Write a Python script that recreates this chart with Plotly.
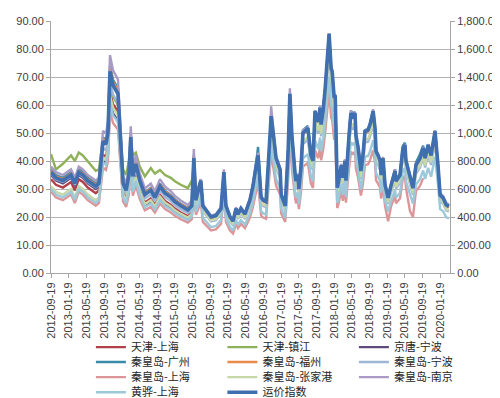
import plotly.graph_objects as go

# ---------------- data ----------------
dates = [
    '2012-09-19','2012-10-23','2012-12-10','2013-02-04','2013-03-02','2013-03-29','2013-04-26','2013-05-30','2013-07-24','2013-08-15',
    '2013-09-12','2013-10-02','2013-10-16','2013-10-30','2013-11-20','2013-12-24','2014-01-28','2014-02-18','2014-03-09','2014-03-22',
    '2014-04-05','2014-04-26','2014-05-23','2014-06-27','2014-08-07','2014-09-04','2014-10-09','2014-11-13','2014-12-23','2015-01-20',
    '2015-03-01','2015-04-19','2015-05-16','2015-05-30','2015-06-13',
    '2015-07-17','2015-07-31','2015-09-25','2015-10-29','2015-12-03','2015-12-23','2016-01-06','2016-02-03','2016-02-24','2016-03-15',
    '2016-03-29','2016-04-18','2016-05-16','2016-06-19','2016-07-10','2016-07-31','2016-08-14','2016-09-04','2016-09-18','2016-10-08',
    '2016-11-05','2016-11-12','2016-11-26','2016-12-16','2017-01-13','2017-01-20','2017-02-17','2017-03-09','2017-03-21','2017-04-04',
    '2017-04-25','2017-05-02','2017-05-15','2017-05-22','2017-06-05','2017-06-19','2017-07-23','2017-08-13','2017-08-27','2017-09-10',
    '2017-10-01','2017-10-15','2017-10-22','2017-11-05','2017-11-19','2017-12-02','2017-12-16','2017-12-30','2018-01-06','2018-01-20',
    '2018-01-27','2018-02-10',
    '2018-02-17','2018-03-10','2018-03-21','2018-04-04','2018-04-11','2018-05-02','2018-05-15','2018-05-29','2018-06-12','2018-06-19',
    '2018-07-03','2018-07-23','2018-08-06','2018-08-20','2018-09-10','2018-09-24','2018-10-15','2018-10-28','2018-11-04','2018-11-18',
    '2018-12-02','2018-12-09','2018-12-22','2019-01-05','2019-01-26','2019-02-16','2019-03-01','2019-03-15','2019-03-21','2019-04-18',
    '2019-05-08','2019-05-22','2019-05-29','2019-06-26','2019-07-16','2019-08-06','2019-09-03','2019-09-24','2019-10-08','2019-10-28',
    '2019-11-18','2019-12-15','2019-12-22','2020-01-05','2020-01-19','2020-02-09','2020-03-01','2020-03-20',
]

tianjin_shanghai = [
    33.5,31.5,30.5,32.5,29.5,33.5,32.5,30.5,28.5,29.5,
    42.3,41.4,45,64.8,60.3,57.6,28.8,26.6,31.5,43.7,31.1,35.1,29.7,25.2,26.6,24.3,27.9,25.7,24.3,23,21.6,20.3,21.6,36.9,23.4,
]
tianjin_zhenjiang = [
    42.5,37,39,42,40,43,42,40,36.5,37,
    48,47,50,66,63,60,37,35,40,46,42,43,38,34.5,37.5,35.5,36.8,35,34,32.8,31.5,30.3,33,
]
jingtang_ningbo = [
    35,33,32,34,31,35,34,32,30,31,
    40,39.1,42.5,61.2,57,54.4,27.2,25.1,29.8,41.2,29.3,33.2,28.1,23.8,25.1,23,26.4,24.2,23,21.7,20.4,19.1,20.4,34.9,22.1,
]
qhd_guangzhou = [
    37,35,34,36,33,37,36,34,32,33,
    48.4,47.4,51.5,74.2,69,65.9,33,30.4,36.1,50,35.5,40.2,34,28.8,30.4,27.8,31.9,29.4,27.8,26.3,24.7,23.2,24.7,42.2,26.8,
    33.5,24,20,20.5,23,36,24,20,18.5,23,21,23,21,26,31.5,39,45,27,26,25.5,
    47,56.5,50,41,37,28,24,44,64,49,36,33,35,30,38,51,52.5,42,40,58,
    54.5,59.5,53,58,66,75,85,73,72,62.5,63.5,30.5,
    32,38.5,34,40.5,33,50,58,57,57.5,49,45,37,42.5,51,51.5,53.5,58,51.7,43.5,42,
    40,35,41,31.4,27,31.5,34.5,37,33,35.5,45.5,46.5,40.5,34,30.5,39.5,42.5,45.5,41.5,46,
    42,51,47,38,28,27,24.5,24,
]
qhd_fuzhou = [
    36.5,34.5,33.5,35.5,32.5,36.5,35.5,33.5,31.5,32.5,
    47.9,46.9,51,73.4,68.3,65.3,32.6,30.1,35.7,49.5,35.2,39.8,33.7,28.6,30.1,27.5,31.6,29.1,27.5,26,24.5,23,24.5,41.8,26.5,
    32.5,23.5,19.5,20,22.5,35.5,23.5,19.5,18,22.5,20.5,22.5,20.5,25.5,30.5,37.5,41.5,26.5,25.5,25,
    46.5,55.5,49.5,40.5,36.3,27.5,23.5,43,63.5,48.5,35.5,32.3,34.5,29.5,37,49.5,51.2,41.5,39.5,57.3,
    53.5,58.5,52.5,57.5,65.5,74.5,85,72.5,71.5,62,63,30,
    31.5,38,33.5,39.5,32.5,48.5,56.5,55.5,56.5,48.5,44.5,35.9,41.5,50.1,50.5,52.5,57.3,51.2,43,41.5,
    39.5,34.5,40.5,30.9,26.3,30.9,33.5,35.9,32.3,34.5,44.1,45.2,39.5,33.5,29.8,38,40.5,44.1,40.5,45.2,
    41.5,50.1,46.5,37.5,27.3,26.3,23.8,23.3,
]
qhd_ningbo = [
    35.5,33.5,32.5,34.5,31.5,35.5,34.5,32.5,30.5,31.5,
    44.7,43.7,47.5,68.4,63.7,60.8,30.4,28,33.3,46.1,32.8,37.1,31.4,26.6,28,25.7,29.5,27.1,25.7,24.2,22.8,21.4,22.8,39,24.7,
    30.4,22.1,18.4,18.9,21.2,33.1,22.1,18.4,17,21.2,19.3,21.2,19.3,23.9,28.5,35,38.6,24.8,23.9,23.5,
    43.2,51.5,46,37.7,33.9,25.8,22.1,40,58.9,45.1,33.1,30.2,32.2,27.6,34.5,46,47.6,38.6,36.8,53.2,
    49.7,54.3,48.8,53.4,60.7,69,78.7,67.2,66.2,57.5,58.4,28.1,
    29.4,35.4,31.3,36.8,30.4,45.1,52.4,51.5,52.4,45.1,41.4,33.5,38.6,46.6,46.9,48.8,53.2,47.6,40,38.6,
    36.8,32.2,37.7,28.9,24.7,28.9,31.3,33.5,30.2,32.2,41,42,36.8,31.3,27.9,35.4,37.7,41,37.7,42,
    38.6,46.6,43.2,35,25.6,24.7,22.4,21.9,
]
qhd_shanghai = [
    29,27,26,28,25,29,28,26,24,25,
    37.6,36.8,40,57.6,53.6,51.2,25.6,23.6,28,38.8,27.6,31.2,26.4,22.4,23.6,21.6,24.8,22.8,21.6,20.4,19.2,18,19.2,32.8,20.8,
    25.1,18.2,15.2,15.6,17.5,27.4,18.2,15.2,14.1,17.5,16,17.5,16,19.8,23.6,28.9,31.9,20.5,19.8,19.4,
    35.7,42.6,38,31.2,28,21.3,18.2,33.1,48.6,37.2,27.4,24.9,26.6,22.8,28.5,38,39.3,31.9,30.4,43.9,
    41,44.8,40.3,44.1,50.2,57,65,55.5,54.7,47.5,48.3,23.2,
    24.3,29.3,25.8,30.4,25.1,37.2,43.3,42.6,43.3,37.2,34.2,27.7,31.9,38.5,38.8,40.3,43.9,39.3,33.1,31.9,
    30.4,26.6,31.2,23.9,18.5,23.9,25.8,27.7,24.9,26.6,33.9,34.7,30.4,22,20,29.3,31.2,33.9,
]
qhd_zhangjiagang = [
    31,29,28,30,27,31,30,28,26,27,
    41.4,40.5,44,63.4,59,56.3,28.2,26,30.8,42.7,30.4,34.3,29,24.6,26,23.8,27.3,25.1,23.8,22.4,21.1,19.8,21.1,36.1,22.9,
    31,22.6,18.8,19.3,21.6,33.8,22.6,18.8,17.4,21.6,19.7,21.6,19.7,24.4,29.1,35.7,39.5,25.4,24.4,24,
    44.2,52.6,47,38.5,34.6,26.3,22.6,40.9,60.2,46.1,33.8,30.8,32.9,28.2,35.3,47,48.6,39.5,37.6,54.3,
    50.8,55.5,49.8,54.5,62,70.5,80.4,68.6,67.7,58.8,59.7,28.7,
    30.1,36.2,32,37.6,31,46.1,53.6,52.6,53.6,46.1,42.3,34.2,39.5,47.6,47.9,49.8,54.3,48.6,40.9,39.5,
    37.6,32.9,38.5,29.5,25.2,29.5,32,34.2,30.8,32.9,41.9,43,37.6,32,28.5,36.2,38.5,41.9,38.5,43,
    39.5,47.6,44.2,35.7,26.1,25.2,22.8,22.4,
]
qhd_nanjing = [
    38,36,35,37,34,38,37,35,33,34,
    50.8,49.7,54,77.8,72.4,69.1,34.6,31.9,37.8,52.4,37.3,42.1,35.6,30.2,31.9,29.2,33.5,30.8,29.2,27.5,25.9,24.3,25.9,44.3,28.1,
    33.5,24.5,20.5,21,23.5,37,24.5,20.5,19,23.5,21.5,23.5,21.5,26.5,31.5,39,43,27.5,26.5,26,
    49,59.5,51,41.5,37.5,28.5,24.5,44,66,50,36.5,33.5,35.5,30.5,38,51,52,42.5,40.5,58,
    54.5,59.5,53.5,58.5,66.5,75.5,85.5,73.5,72.5,63,64,31,
    32.5,39,34.5,40.5,33.5,49.5,58,56.5,57.5,49.5,45.5,37,42.5,51,51.5,53.5,58.5,52,44,42.5,
    40.5,35.5,41.5,32,27.5,32,34.5,37,33.5,35.5,45,46,40.5,34.5,31,39,41.5,45,41.5,46,
    42.5,51,47.5,38.5,28.5,27.5,25,24.5,
]
huanghua_shanghai = [
    30,28,27,29,26,30,29,27,25,26,
    39.5,38.6,42,60.5,56.3,53.8,26.9,24.8,29.4,40.7,29,32.8,27.7,23.5,24.8,22.7,26,23.9,22.7,21.4,20.2,18.9,20.2,34.4,21.8,
    27.1,19.7,16.4,16.8,18.9,29.5,19.7,16.4,15.2,18.9,17.2,18.9,17.2,21.3,25.4,31.2,34.4,22.1,21.3,20.9,
    38.5,45.9,41,33.6,30.2,23,19.7,35.7,52.5,40.2,29.5,26.9,28.7,24.6,30.8,41,42.4,34.4,32.8,47.4,
    44.3,48.4,43.5,47.6,54.1,61.5,70.1,59.9,59,51.3,52.1,25,
    26.2,31.6,27.9,32.8,27.1,40.2,46.7,45.9,46.7,40.2,36.9,29.8,34.4,41.5,41.8,43.5,47.4,42.4,35.7,34.4,
    32.8,28.7,33.6,25.7,22,25.7,27.9,29.8,26.9,28.7,36.6,37.5,32.8,27.9,24.8,31.6,33.6,36.6,33.6,37.5,
    34.4,41.5,38.5,31.2,22.8,22,19.9,19.5,
]
freight_index = [
    720,680,660,700,640,720,700,660,620,640,
    940,920,1000,1440,1340,1280,640,590,700,970,690,780,660,560,590,540,620,570,540,510,480,450,480,820,520,
    660,480,400,410,460,720,480,400,370,460,420,460,420,520,620,760,840,540,520,510,
    940,1120,1000,820,736,560,480,870,1280,980,720,656,700,600,750,1000,1034,840,800,1156,
    1080,1180,1060,1160,1320,1500,1710,1460,1440,1250,1270,610,
    640,770,680,800,660,980,1140,1120,1140,980,900,728,840,1012,1020,1060,1156,1034,870,840,
    800,700,820,628,536,628,680,728,656,700,892,914,800,680,606,770,820,892,820,914,
    840,1012,940,760,556,536,486,476,
]

tick_dates = ['2012-09-19','2013-01-19','2013-05-19','2013-09-19','2014-01-19','2014-05-19','2014-09-19',
              '2015-01-19','2015-05-19','2015-09-19','2016-01-19','2016-05-19','2016-09-19','2017-01-19',
              '2017-05-19','2017-09-19','2018-01-19','2018-05-19','2018-09-19','2019-01-19','2019-05-19',
              '2019-09-19','2020-01-19']

names = ['天津-上海', '天津-镇江', '京唐-宁波', '秦皇岛-广州', '秦皇岛-福州', '秦皇岛-宁波',
         '秦皇岛-上海', '秦皇岛-张家港', '秦皇岛-南京', '黄骅-上海', '运价指数']
series = [tianjin_shanghai, tianjin_zhenjiang, jingtang_ningbo, qhd_guangzhou, qhd_fuzhou, qhd_ningbo,
          qhd_shanghai, qhd_zhangjiagang, qhd_nanjing, huanghua_shanghai, freight_index]

# ---------------- styles ----------------
colors = ['#B0404A', '#8FB15A', '#5E4B7C', '#3A8BA8', '#E98B4B', '#9FB6D6',
          '#DC9699', '#C6D8A8', '#A99BC6', '#9CC8DA', '#3F6FAF']
legend_ids = ['legend', 'legend', 'legend', 'legend2', 'legend2', 'legend2',
              'legend3', 'legend3', 'legend3', 'legend4', 'legend4']

fig = go.Figure()
for i, (n, s) in enumerate(zip(names, series)):
    is_index = (n == '运价指数')
    fig.add_trace(go.Scatter(
        x=dates[:len(s)], y=s, name=n, mode='lines',
        line=dict(color=colors[i], width=3.6 if is_index else 2.4),
        yaxis='y2' if is_index else 'y',
        legend=legend_ids[i],
    ))

tick_font = dict(family='Liberation Sans, Arial, sans-serif', size=11, color='#404040')
axis_gray = '#A6A6A6'

leg_common = dict(orientation='h', x=0.1, xanchor='left', yanchor='middle',
                  entrywidth=86.5, entrywidthmode='pixels',
                  font=dict(family='Noto Sans CJK SC, sans-serif', size=11, color='#262626'),
                  bgcolor='rgba(0,0,0,0)', borderwidth=0, itemwidth=30)

fig.update_layout(
    width=500, height=398,
    margin=dict(l=43, r=58, t=13, b=133, autoexpand=False),
    paper_bgcolor='white', plot_bgcolor='white',
    showlegend=True,
    xaxis=dict(type='date', range=['2012-09-19', '2020-03-27'],
               tickmode='array', tickvals=tick_dates, ticktext=tick_dates,
               tickangle=-90, tickfont=tick_font,
               showgrid=False, showline=True, linecolor=axis_gray, linewidth=1,
               ticks='outside', ticklen=4, tickcolor=axis_gray, zeroline=False),
    yaxis=dict(range=[0, 90], dtick=10, tick0=0, tickformat='.2f', tickfont=tick_font,
               showgrid=True, gridcolor='#B3B3B3', gridwidth=1,
               showline=True, linecolor=axis_gray, ticks='outside', ticklen=4, tickcolor=axis_gray,
               zeroline=False),
    yaxis2=dict(range=[0, 1800], dtick=200, tick0=0, tickformat=',.2f', tickfont=tick_font,
                overlaying='y', side='right', showgrid=False,
                showline=True, linecolor=axis_gray, ticks='outside', ticklen=4, tickcolor=axis_gray,
                zeroline=False),
    legend=dict(y=-0.294, **leg_common),
    legend2=dict(y=-0.353, **leg_common),
    legend3=dict(y=-0.413, **leg_common),
    legend4=dict(y=-0.473, **leg_common),
)

fig.write_html('out.html')
